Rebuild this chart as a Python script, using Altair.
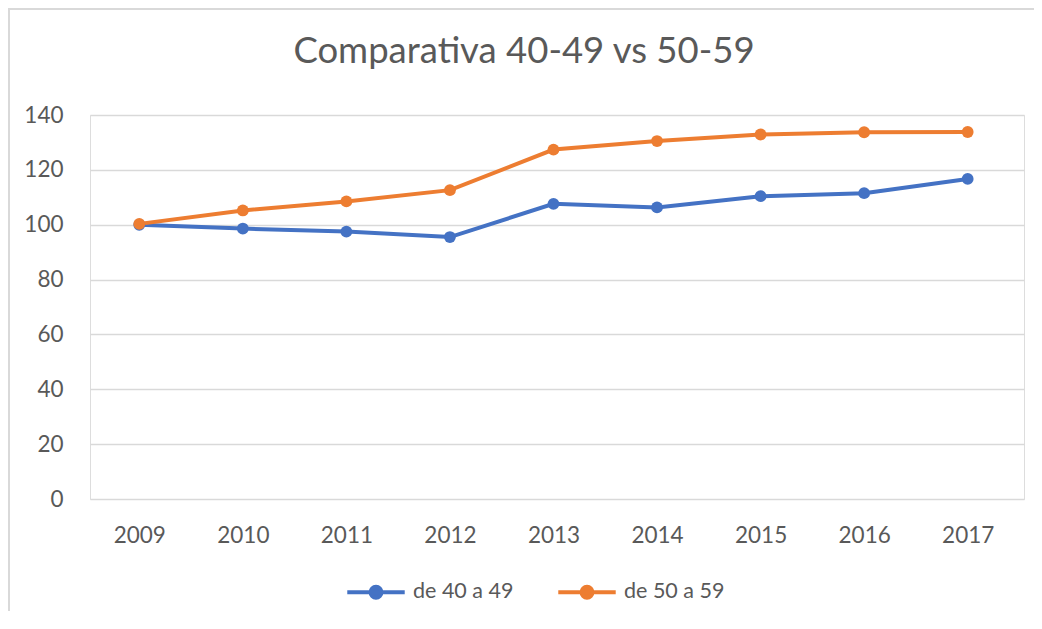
import altair as alt
import pandas as pd

years = [2009, 2010, 2011, 2012, 2013, 2014, 2015, 2016, 2017]
serie_40_49 = [100.0, 98.6, 97.5, 95.5, 107.6, 106.3, 110.4, 111.5, 116.7]
serie_50_59 = [100.3, 105.2, 108.5, 112.6, 127.4, 130.5, 132.9, 133.7, 133.8]
series_names = ["de 40 a 49", "de 50 a 59"]
series_colors = ["#4472C4", "#ED7D31"]
y_ticks = [0, 20, 40, 60, 80, 100, 120, 140]

rows = []
for name, vals in zip(series_names, [serie_40_49, serie_50_59]):
    for yr, v in zip(years, vals):
        rows.append({"year": yr, "value": v, "serie": name})
df = pd.DataFrame(rows)

FONT = "Lato"
TXT = "#595959"
W, H = 934, 384

x_enc = alt.X("year:Q",
              scale=alt.Scale(domain=[2008.524, 2017.544], nice=False, zero=False),
              axis=alt.Axis(values=years, format="d", title=None, grid=False,
                            ticks=False, domain=False, labelPadding=25,
                            labelFontSize=22.5, labelColor=TXT, labelFont=FONT))
y_enc = alt.Y("value:Q",
              scale=alt.Scale(domain=[0, 140], nice=False),
              axis=alt.Axis(values=y_ticks, title=None, grid=True, gridColor="#D9D9D9",
                            gridWidth=1.5, ticks=False, domain=False, labelPadding=27,
                            labelFontSize=22.5, labelColor=TXT, labelFont=FONT))
color_enc = alt.Color("serie:N",
                      scale=alt.Scale(domain=series_names, range=series_colors),
                      legend=alt.Legend(
                          title=None, orient="none", direction="horizontal",
                          legendX=255, legendY=446,
                          symbolType="M-1,0L1,0M-0.19,0A0.19,0.19 0 1,1 0.19,0A0.19,0.19 0 1,1 -0.19,0Z",
                          symbolSize=3300, symbolStrokeWidth=4,
                          labelFontSize=21.5, labelColor=TXT, labelFont=FONT,
                          labelOffset=6, columnPadding=36))

base = alt.Chart(df)
lines = base.mark_line(strokeWidth=4).encode(x=x_enc, y=y_enc, color=color_enc)
points = base.mark_point(filled=True, size=140, opacity=1).encode(x=x_enc, y=y_enc, color=color_enc)

border_top = alt.Chart(df).mark_rule(color="#D9D9D9", strokeWidth=2).encode(
    x=alt.value(-82), x2=alt.value(W + 12), y=alt.value(-106))
border_left = alt.Chart(df).mark_rule(color="#D9D9D9", strokeWidth=2).encode(
    x=alt.value(-81), y=alt.value(-107), y2=alt.value(H + 120))

chart = alt.layer(border_top, border_left, lines, points).properties(
    width=W, height=H,
    autosize=alt.AutoSizeParams(type="none"),
    padding={"left": 82, "top": 107, "right": 10, "bottom": 112},
    title=alt.TitleParams("Comparativa 40-49 vs 50-59", font=FONT, fontSize=36.5,
                          fontWeight="normal", color=TXT, anchor="middle",
                          frame="group", offset=-100, baseline="bottom", dx=-33),
).configure_view(stroke=None).configure(background="white")

chart.save("out.html", embed_options={"renderer": "svg", "actions": False})
